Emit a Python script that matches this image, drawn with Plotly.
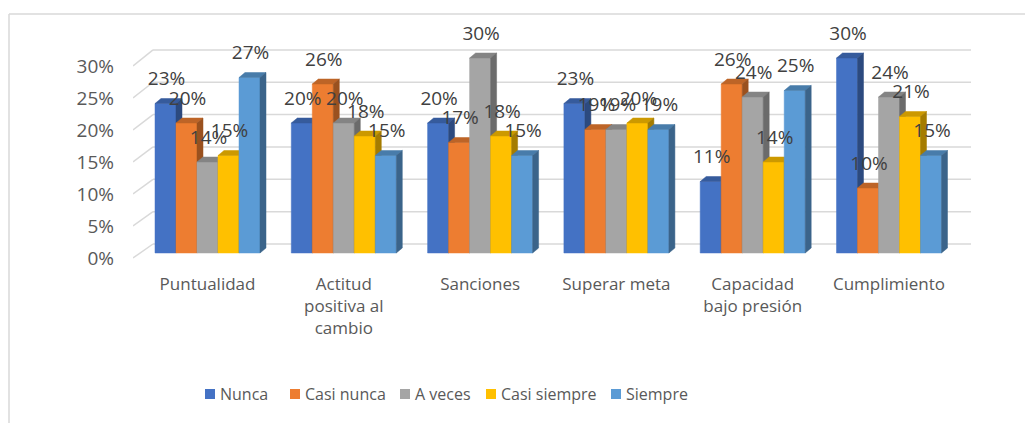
import plotly.graph_objects as go

# datos (porcentajes)
categorias = ["Puntualidad", "Actitud<br>positiva al<br>cambio", "Sanciones",
              "Superar meta", "Capacidad<br>bajo presión", "Cumplimiento"]
series = ["Nunca", "Casi nunca", "A veces", "Casi siempre", "Siempre"]
nunca = [23, 20, 20, 23, 11, 30]
casi_nunca = [20, 26, 17, 19, 26, 10]
a_veces = [14, 20, 30, 19, 24, 24]
casi_siempre = [15, 18, 18, 20, 14, 21]
siempre = [27, 15, 15, 19, 25, 15]
y_ticks = [0, 5, 10, 15, 20, 25, 30]

valores = [nunca, casi_nunca, a_veces, casi_siempre, siempre]
colores = ["#4472C4", "#ED7D31", "#A5A5A5", "#FFC000", "#5B9BD5"]

# todas las medidas en px de la ventana; la pagina tiene 8 px de margen
OFF = 8
W, H = 1033 - OFF, 423 - OFF
L, R, T, B = 133, 975, 20, 262        # area de trazado
X0, XS = 207.5, 136.3                  # centro del 1er grupo, px por categoria
Y0F, S = 253, 6.5                      # base frontal de barras, px por %
Y0T, ST = 258, 6.4                     # escala de etiquetas del eje
Y0B, SB = 244, 6.47                    # pared del fondo
BW, DX, DY = 21, 6, 5                  # ancho de barra y profundidad 3D


def xd(px):
    return (px - X0) / XS


def yd(py):
    return (Y0F - py) / S


def xp(px):
    return (px - L) / (R - L)


def yp(py):
    return (B - py) / (B - T)


def shade(hx, f):
    r, g, b = (int(hx[i:i + 2], 16) for i in (1, 3, 5))
    return "rgb(%d,%d,%d)" % (r * f, g * f, b * f)


fig = go.Figure()

bw = BW / XS
ddx = DX / XS
ddy = DY / S

for s, (vals, col) in enumerate(zip(valores, colores)):
    fx, fy, tx, ty, sx, sy = [], [], [], [], [], []
    for c, v in enumerate(vals):
        xl = c + (s - 2.5) * bw
        xr = xl + bw
        fx += [xl, xr, xr, xl, xl, None]
        fy += [0, 0, v, v, 0, None]
        tx += [xl, xr, xr + ddx, xl + ddx, xl, None]
        ty += [v, v, v + ddy, v + ddy, v, None]
        sx += [xr, xr + ddx, xr + ddx, xr, xr, None]
        sy += [0, ddy, v + ddy, v, 0, None]
    for px_, py_, fc in [(fx, fy, col), (tx, ty, shade(col, 0.8)), (sx, sy, shade(col, 0.65))]:
        fig.add_trace(go.Scatter(x=px_, y=py_, mode="lines", fill="toself",
                                 fillcolor=fc, line=dict(width=0.5, color=fc),
                                 showlegend=False, hoverinfo="skip"))

# etiquetas de datos
lx, ly, lt = [], [], []
for s, vals in enumerate(valores):
    for c, v in enumerate(vals):
        lx.append(c + (s - 2) * bw + 1 / XS)
        ly.append(v + 23 / S)
        lt.append("%d%%" % v)
fig.add_trace(go.Scatter(x=lx, y=ly, text=lt, mode="text", textposition="middle center",
                         textfont=dict(family="Open Sans", size=19, color="#404040"),
                         showlegend=False, hoverinfo="skip"))

# eje de etiquetas (escala ligeramente distinta por la perspectiva)
fig.add_trace(go.Scatter(x=[None], y=[None], yaxis="y2", showlegend=False, hoverinfo="skip"))

# lineas de cuadricula en la pared del fondo
shapes = []
grid = dict(color="#D9D9D9", width=1.5)
for g in y_ticks:
    yb = yd(Y0B - SB * g)
    yf = yd(Y0T - ST * g)
    shapes.append(dict(type="line", xref="x", yref="y", x0=xd(153), x1=xd(971),
                       y0=yb, y1=yb, line=grid, layer="below"))
    shapes.append(dict(type="line", xref="x", yref="y", x0=xd(L), x1=xd(153),
                       y0=yf, y1=yb, line=grid, layer="below"))

# marco del grafico
frame = dict(color="#D9D9D9", width=1.5)
shapes.append(dict(type="line", xref="paper", yref="paper",
                   x0=xp(9), x1=xp(9), y0=yp(14), y1=yp(H + OFF), line=frame))
shapes.append(dict(type="line", xref="paper", yref="paper",
                   x0=xp(9), x1=xp(W + OFF), y0=yp(14), y1=yp(14), line=frame))

# leyenda (cuadros pequenos pegados al texto, como en el original)
annotations = []
legend_x = [205, 290, 400, 486, 611]
for name, col, lxp in zip(series, colores, legend_x):
    shapes.append(dict(type="rect", xref="paper", yref="paper",
                       x0=xp(lxp), x1=xp(lxp + 10), y0=yp(389), y1=yp(399),
                       fillcolor=col, line=dict(width=0)))
    annotations.append(dict(xref="paper", yref="paper", x=xp(lxp + 13), y=yp(394),
                            xanchor="left", yanchor="middle", text=name, showarrow=False,
                            font=dict(family="Open Sans", size=16, color="#595959")))

fig.update_layout(
    width=W, height=H,
    margin=dict(l=L - OFF, r=W + OFF - R, t=T - OFF, b=H + OFF - B),
    paper_bgcolor="white", plot_bgcolor="white",
    font=dict(family="Open Sans", color="#595959"),
    shapes=shapes,
    annotations=annotations,
    xaxis=dict(range=[xd(L), xd(R)], tickvals=list(range(len(categorias))), ticktext=categorias,
               showgrid=False, zeroline=False, showline=False, ticks="",
               tickfont=dict(size=17, color="#595959"), ticklabelstandoff=10),
    yaxis=dict(range=[yd(B), yd(T)], showticklabels=False, showgrid=False, zeroline=False),
    yaxis2=dict(overlaying="y", side="left", anchor="x",
                range=[(Y0T - B) / ST, (Y0T - T) / ST], tickvals=y_ticks,
                ticktext=["%d%%" % t for t in y_ticks], showgrid=False, zeroline=False,
                showline=False, ticks="", tickfont=dict(size=19, color="#595959"),
                ticklabelstandoff=18),
    showlegend=False,
)

fig.write_html("out.html")
